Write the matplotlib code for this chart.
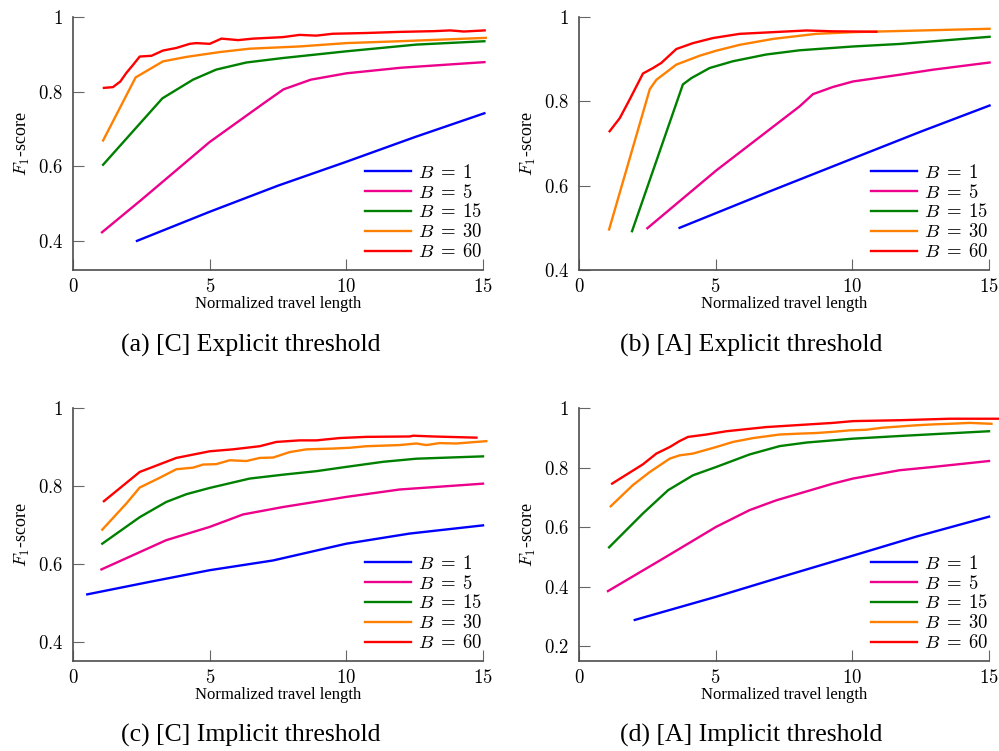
import matplotlib
matplotlib.use("Agg")
import matplotlib.pyplot as plt
from matplotlib import ticker

plt.rcParams['font.family'] = ['Liberation Serif', 'DejaVu Serif']
plt.rcParams['mathtext.fontset'] = 'cm'

BUDGETS = [r"$B\;=\;1$", r"$B\;=\;5$", r"$B\;=\;15$", r"$B\;=\;30$", r"$B\;=\;60$"]
COLORS = ["#0000ff", "#ec008c", "#008000", "#ff8000", "#ff0000"]

# (a) [C] explicit threshold
a1x = [2.34, 5, 7.5, 10, 12.5, 15.05]
a1y = [0.400, 0.478, 0.548, 0.612, 0.678, 0.742]
a5x = [1.06, 2.5, 5, 7, 7.7, 8.7, 10, 12, 15.05]
a5y = [0.423, 0.51, 0.665, 0.77, 0.806, 0.832, 0.849, 0.864, 0.879]
a15x = [1.1, 3.27, 4.39, 5.24, 6.34, 7.68, 10, 12.56, 15.05]
a15y = [0.604, 0.782, 0.832, 0.859, 0.878, 0.890, 0.908, 0.926, 0.935]
a30x = [1.1, 2.29, 3.29, 4.15, 5.37, 6.46, 8.29, 10, 11.95, 15.1]
a30y = [0.669, 0.838, 0.881, 0.893, 0.906, 0.915, 0.921, 0.930, 0.935, 0.944]
a60x = [1.13, 1.46, 1.73, 1.95, 2.2, 2.44, 2.87, 3.29, 3.78, 4.27, 4.51, 5.0, 5.43,
        6.04, 6.59, 7.68, 8.29, 8.9, 9.5, 10.7, 11.95, 12.56, 13.2, 13.8, 14.3, 15.06]
a60y = [0.810, 0.812, 0.827, 0.850, 0.872, 0.894, 0.896, 0.910, 0.917, 0.928, 0.930, 0.928, 0.942,
        0.938, 0.942, 0.946, 0.952, 0.950, 0.955, 0.957, 0.960, 0.961, 0.962, 0.964, 0.961, 0.964]

# (b) [A] explicit threshold
b1x = [3.68, 7, 10, 12.5, 15.02]
b1y = [0.5, 0.587, 0.664, 0.728, 0.79]
b5x = [2.5, 5.02, 8.07, 8.56, 9.29, 10.02, 11.73, 12.95, 15.02]
b5y = [0.499, 0.636, 0.788, 0.817, 0.834, 0.847, 0.863, 0.875, 0.892]
b15x = [1.94, 3.80, 4.11, 4.78, 5.63, 6.85, 8.07, 10.02, 11.73, 15.02]
b15y = [0.492, 0.840, 0.855, 0.879, 0.895, 0.911, 0.921, 0.930, 0.936, 0.953]
b30x = [1.10, 2.59, 2.83, 3.56, 4.41, 5.02, 5.88, 7.1, 8.68, 10.02, 15.02]
b30y = [0.496, 0.829, 0.851, 0.887, 0.908, 0.920, 0.934, 0.948, 0.960, 0.964, 0.972]
b60x = [1.12, 1.49, 1.85, 2.34, 2.71, 3.01, 3.56, 4.17, 4.9, 5.88, 7.1, 8.32, 9.29, 10.88]
b60y = [0.729, 0.760, 0.804, 0.866, 0.879, 0.891, 0.924, 0.938, 0.950, 0.960, 0.964, 0.968, 0.966, 0.965]

# (c) [C] implicit threshold
c1x = [0.52, 2.8, 5, 7.32, 10, 12.32, 15]
c1y = [0.522, 0.554, 0.584, 0.609, 0.652, 0.678, 0.699]
c5x = [1.04, 3.41, 5, 6.22, 7.68, 10, 11.95, 15]
c5y = [0.586, 0.661, 0.695, 0.727, 0.746, 0.772, 0.791, 0.806]
c15x = [1.07, 2.44, 3.41, 4.15, 5, 6.46, 7.68, 8.9, 10, 11.34, 12.56, 15]
c15y = [0.652, 0.720, 0.759, 0.779, 0.795, 0.819, 0.829, 0.838, 0.849, 0.862, 0.870, 0.876]
c30x = [1.07, 1.95, 2.44, 3.17, 3.78, 4.39, 4.76, 5.24, 5.73, 6.34, 6.83, 7.32, 7.93, 8.54,
        9.5, 10.12, 10.73, 11.95, 12.56, 12.93, 13.41, 14.02, 15.12]
c30y = [0.688, 0.755, 0.796, 0.821, 0.843, 0.847, 0.855, 0.856, 0.866, 0.864, 0.872, 0.873, 0.887, 0.894,
        0.896, 0.898, 0.902, 0.905, 0.909, 0.905, 0.910, 0.909, 0.915]
c60x = [1.13, 2.44, 3.78, 5, 5.85, 6.83, 7.44, 8.29, 8.9, 9.76, 10.73, 12.32, 12.44, 13.17, 14.76]
c60y = [0.761, 0.836, 0.872, 0.889, 0.894, 0.902, 0.913, 0.917, 0.917, 0.923, 0.926, 0.927, 0.929, 0.927, 0.924]

# (d) [A] implicit threshold
d1x = [2.04, 5.02, 7.46, 10.02, 12.34, 15]
d1y = [0.288, 0.366, 0.434, 0.504, 0.568, 0.635]
d5x = [1.06, 3.2, 5.02, 6.24, 7.22, 8.07, 9.29, 10.02, 11.73, 12.95, 15]
d5y = [0.385, 0.501, 0.601, 0.657, 0.690, 0.713, 0.746, 0.763, 0.791, 0.802, 0.822]
d15x = [1.10, 2.34, 3.26, 4.17, 5.02, 6.24, 7.34, 8.32, 10.02, 11.73, 12.95, 15]
d15y = [0.532, 0.646, 0.724, 0.774, 0.802, 0.844, 0.872, 0.884, 0.897, 0.906, 0.912, 0.922]
d30x = [1.16, 1.97, 2.59, 3.32, 3.68, 4.17, 5.02, 5.63, 6.37, 7.34, 8.07, 8.68, 9.29, 9.9,
        10.51, 11.12, 12.34, 12.95, 13.56, 14.29, 15.09]
d30y = [0.670, 0.741, 0.785, 0.830, 0.841, 0.847, 0.869, 0.886, 0.899, 0.911, 0.914, 0.916, 0.920, 0.925,
        0.927, 0.934, 0.942, 0.945, 0.947, 0.950, 0.947]
d60x = [1.21, 2.34, 2.83, 3.32, 3.68, 3.99, 4.66, 5.39, 6.85, 9.29, 10.02, 11.73, 13.56, 15.33]
d60y = [0.746, 0.811, 0.847, 0.869, 0.889, 0.903, 0.911, 0.922, 0.936, 0.950, 0.956, 0.959, 0.964, 0.964]

CAPTIONS = ["(a) [C] Explicit threshold", "(b) [A] Explicit threshold",
            "(c) [C] Implicit threshold", "(d) [A] Implicit threshold"]
YLIMS = [(0.322, 1.0), (0.4, 1.0), (0.351, 1.0), (0.15, 1.0)]
YTICKS = [[0.4, 0.6, 0.8, 1.0], [0.4, 0.6, 0.8, 1.0], [0.4, 0.6, 0.8, 1.0], [0.2, 0.4, 0.6, 0.8, 1.0]]

panels = [
    [(a1x, a1y), (a5x, a5y), (a15x, a15y), (a30x, a30y), (a60x, a60y)],
    [(b1x, b1y), (b5x, b5y), (b15x, b15y), (b30x, b30y), (b60x, b60y)],
    [(c1x, c1y), (c5x, c5y), (c15x, c15y), (c30x, c30y), (c60x, c60y)],
    [(d1x, d1y), (d5x, d5y), (d15x, d15y), (d30x, d30y), (d60x, d60y)],
]

fig = plt.figure(figsize=(9.99, 7.51), dpi=100)

lefts = [0.0731, 0.5796, 0.0731, 0.5796]
bottoms = [0.6405, 0.6405, 0.1198, 0.1198]
cap_x = [251 / 999, 751 / 999, 251 / 999, 751 / 999]
cap_y = [1 - 345 / 751, 1 - 345 / 751, 1 - 735 / 751, 1 - 735 / 751]

fmt = ticker.FuncFormatter(lambda v, pos: f"${v:g}$")

for i, series in enumerate(panels):
    ax = fig.add_axes([lefts[i], bottoms[i], 0.4104, 0.3369])
    for (xs, ys), label, color in zip(series, BUDGETS, COLORS):
        ax.plot(xs, ys, color=color, lw=1.7, label=label, clip_on=False)

    ax.set_xlim(0, 15)
    ax.set_ylim(*YLIMS[i])
    ax.set_xticks([0, 5, 10, 15])
    ax.set_yticks(YTICKS[i])
    ax.xaxis.set_major_formatter(fmt)
    ax.yaxis.set_major_formatter(fmt)

    for side in ["top", "right"]:
        ax.spines[side].set_visible(False)
    for side in ["left", "bottom"]:
        ax.spines[side].set_color("0.3")
        ax.spines[side].set_linewidth(1.2)
    ax.tick_params(direction="in", length=8, width=0.8, color="0.4",
                   labelsize=13.5, pad=7)
    ax.tick_params(axis="x", pad=6)

    ax.set_xlabel("Normalized travel length", fontsize=12, labelpad=0)
    ax.set_ylabel("$F_1$-score", fontsize=13, labelpad=4)

    ax.legend(loc="lower right", bbox_to_anchor=(1.0, 0.035), frameon=False,
              fontsize=13.5, handlelength=2.45, handletextpad=0.4,
              labelspacing=0.1, borderpad=0, borderaxespad=0)

    fig.text(cap_x[i], cap_y[i], CAPTIONS[i], ha="center", va="center", fontsize=18.5)

fig.savefig("out.png", dpi=100)
